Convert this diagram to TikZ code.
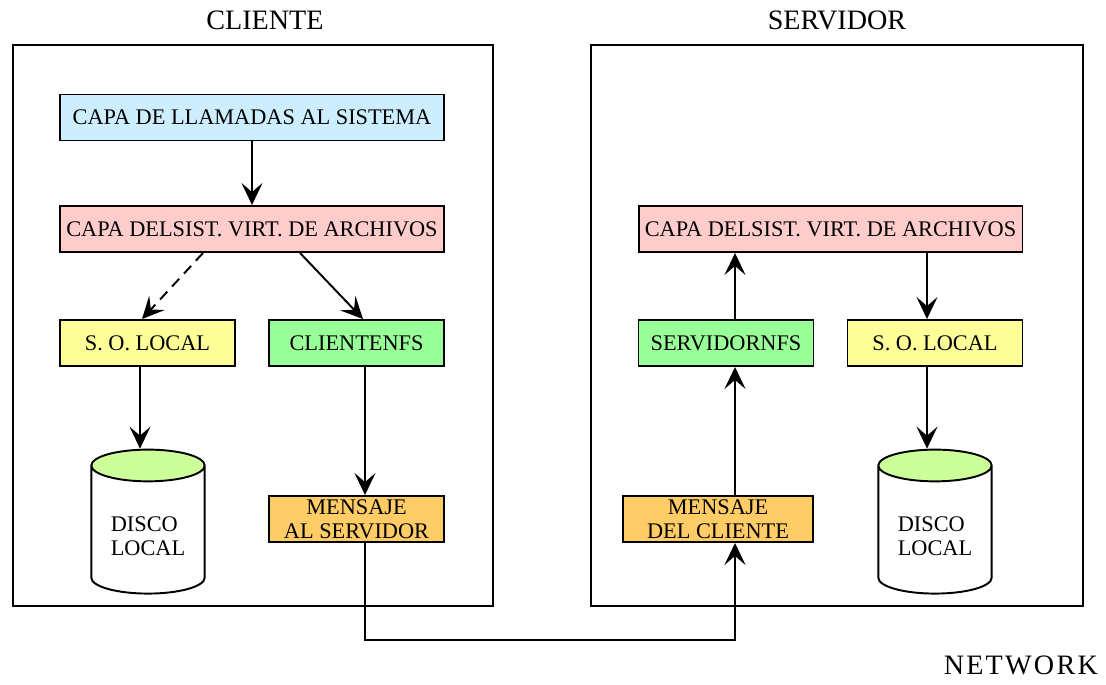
\documentclass[tikz,border=0pt]{standalone}
\usepackage{fontspec}
\setmainfont{Liberation Serif}
\usetikzlibrary{positioning,arrows.meta,shapes.geometric}
\definecolor{capablue}{HTML}{CCEEFF}
\definecolor{vfspink}{HTML}{FFCCCC}
\definecolor{soyellow}{HTML}{FFFF99}
\definecolor{nfsgreen}{HTML}{99FF99}
\definecolor{msgorange}{HTML}{FFCC66}
\definecolor{disktop}{HTML}{CCFF99}
\tikzset{
  flowarrow/.style={-{Stealth[length=4.4mm, width=4.2mm, inset=1.8mm]}, line width=1.1pt},
  layerbox/.style={draw, line width=1.1pt, minimum width=7.68cm, minimum height=0.92cm, inner sep=1pt, align=center},
  smallbox/.style={draw, line width=1.1pt, minimum width=3.5cm, minimum height=0.92cm, inner sep=1pt, align=center},
  frame/.style={draw, line width=1.1pt, minimum height=11.22cm},
  diskcyl/.style={cylinder, shape border rotate=90, draw, line width=1.1pt, aspect=0.28,
    minimum width=2.24cm, minimum height=2.88cm, inner xsep=0.39cm, align=left,
    cylinder uses custom fill, cylinder end fill=disktop, cylinder body fill=white},
  title/.style={font=\fontsize{16}{18}\selectfont}
}
\begin{document}
\begin{tikzpicture}[x=0.02cm, y=-0.02cm, >=Stealth, every node/.style={font=\fontsize{12.7}{13.5}\selectfont}]
  \useasboundingbox (0,0) rectangle (1106,684);
  % cliente
  \node[frame, minimum width=9.6cm] (cl) at (253,325.5) {};
  \node[title] (clt) at (265,20) {CLIENTE};
  \node[layerbox, fill=capablue] (cllam) at (252,117.5) {CAPA DE LLAMADAS AL SISTEMA};
  \node[layerbox, fill=vfspink] (clvfs) at (252,229) {CAPA DELSIST. VIRT. DE ARCHIVOS};
  \node[smallbox, fill=soyellow] (clso) at (147.5,343) {S. O. LOCAL};
  \node[smallbox, fill=nfsgreen] (clnfs) at (356.5,343) {CLIENTENFS};
  \node[diskcyl] (cldisk) at (148,536) {DISCO\\LOCAL};
  \node[smallbox, fill=msgorange] (clmsg) at (356.5,519) {MENSAJE\\AL SERVIDOR};
  % servidor
  \node[frame, minimum width=9.84cm] (sv) at (837,325.5) {};
  \node[title] (svt) at (837,20) {SERVIDOR};
  \node[layerbox, fill=vfspink] (svvfs) at (830.5,229) {CAPA DELSIST. VIRT. DE ARCHIVOS};
  \node[smallbox, fill=nfsgreen] (svnfs) at (726,343) {SERVIDORNFS};
  \node[smallbox, fill=soyellow] (svso) at (935,343) {S. O. LOCAL};
  \node[smallbox, fill=msgorange, minimum width=3.8cm] (svmsg) at (718,519) {MENSAJE\\DEL CLIENTE};
  \node[diskcyl] (svdisk) at (935,536) {DISCO\\LOCAL};
  \node[title, anchor=east, font=\fontsize{16}{18}\selectfont\addfontfeatures{LetterSpace=8}] (net) at (1104,665) {NETWORK};
  \coordinate (wire) at (550,640);

  \draw[flowarrow] (cllam) -- (clvfs);
  \draw[flowarrow, dash pattern=on 6pt off 4pt] ([xshift=-0.98cm]clvfs.south) -- ([xshift=-0.11cm]clso.north);
  \draw[flowarrow] ([xshift=0.96cm]clvfs.south) -- ([xshift=0.13cm]clnfs.north);
  \draw[flowarrow] ([xshift=-0.15cm]clso.south) -- ([xshift=-0.15cm]clso.south |- cldisk.north);
  \draw[flowarrow] ([xshift=0.17cm]clnfs.south) -- ([xshift=0.17cm]clmsg.north);
  \draw[flowarrow] ([xshift=0.17cm]clmsg.south) |- (wire) -| ([xshift=0.34cm]svmsg.south);
  \draw[flowarrow] ([xshift=0.34cm]svmsg.north) -- ([xshift=0.18cm]svnfs.south);
  \draw[flowarrow] ([xshift=0.18cm]svnfs.north) -- ([xshift=-1.91cm]svvfs.south);
  \draw[flowarrow] ([xshift=1.93cm]svvfs.south) -- ([xshift=-0.16cm]svso.north);
  \draw[flowarrow] ([xshift=-0.16cm]svso.south) -- ([xshift=-0.16cm]svso.south |- svdisk.north);
\end{tikzpicture}
\end{document}
